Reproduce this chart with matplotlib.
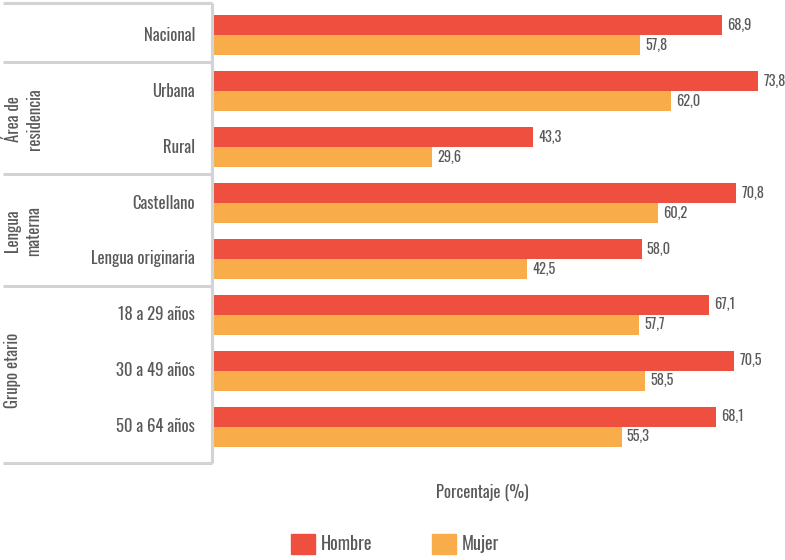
import matplotlib
matplotlib.use("Agg")
import matplotlib.pyplot as plt
from matplotlib import font_manager
from matplotlib.transforms import blended_transform_factory
from matplotlib.patches import Patch

categories = ["Nacional", "Urbana", "Rural", "Castellano", "Lengua originaria",
              "18 a 29 años", "30 a 49 años", "50 a 64 años"]
hombre = [68.9, 73.8, 43.3, 70.8, 58.0, 67.1, 70.5, 68.1]
mujer = [57.8, 62.0, 29.6, 60.2, 42.5, 57.7, 58.5, 55.3]
groups = [("Área de\nresidencia", 1.5), ("Lengua\nmaterna", 3.5), ("Grupo etario", 6.0)]
series_names = ["Hombre", "Mujer"]
xlabel = "Porcentaje (%)"

avail = {f.name for f in font_manager.fontManager.ttflist}
fam = None
for cand in ["Oswald", "Barlow Condensed", "Roboto Condensed", "IBM Plex Sans Condensed", "Noto Sans"]:
    if cand in avail:
        fam = cand
        break
plt.rcParams['font.family'] = [fam, 'DejaVu Sans'] if fam else ['DejaVu Sans']
plt.rcParams['font.weight'] = 300

RED = "#EF4F3E"
ORANGE = "#F9AD4A"
TXT = "#595959"
LINE = "#D3D3D3"

W, H = 785, 560
fig = plt.figure(figsize=(W / 100, H / 100), dpi=100)
left_px, right_px, top_px, bot_px = 213, 785, 3, 463
ax = fig.add_axes([left_px / W, 1 - bot_px / H, (right_px - left_px) / W, (bot_px - top_px) / H])
ax.set_ylim(7.65, -0.58)
ax.set_xlim(0, 77.4)
ax.axis("off")

bh = 0.358
ys = list(range(len(categories)))
ax.barh([y - bh / 2 for y in ys], hombre, height=bh, color=RED, label=series_names[0])
ax.barh([y + bh / 2 for y in ys], mujer, height=bh, color=ORANGE, label=series_names[1])

FS_VAL = 10.3
FS = 12
for y, v in zip(ys, hombre):
    ax.text(v + 0.7, y - bh / 2, f"{v:.1f}".replace(".", ","), va="center", ha="left",
            fontsize=FS_VAL, color=TXT)
for y, v in zip(ys, mujer):
    ax.text(v + 0.7, y + bh / 2, f"{v:.1f}".replace(".", ","), va="center", ha="left",
            fontsize=FS_VAL, color=TXT)

tr = blended_transform_factory(fig.transFigure, ax.transData)
for y, c in zip(ys, categories):
    ax.text(195 / W, y, c, transform=tr, ha="right", va="center", fontsize=FS, color=TXT)

# table lines
xl, xv = 3 / W, 211.5 / W
for yy in [-0.58, 0.47, 2.48, 4.48, 7.65]:
    ax.plot([xl, xv], [yy, yy], transform=tr, color=LINE, lw=2.2, clip_on=False,
            solid_capstyle="butt")
ax.plot([xv, xv], [-0.58, 7.65], transform=tr, color=LINE, lw=2.2, clip_on=False,
        solid_capstyle="butt")

for label, yc in groups:
    ax.text(4 / W, yc, label, transform=tr, rotation=90, ha="left", va="center",
            fontsize=FS, color=TXT, multialignment="center", linespacing=1.3)

fig.text(482 / W, 1 - 492 / H, xlabel, ha="center", va="center", fontsize=FS, color=TXT)

handles = [Patch(color=RED), Patch(color=ORANGE)]
fig.legend(handles, series_names, loc="center", bbox_to_anchor=(395 / W, 1 - 544 / H),
           ncol=2, frameon=False, fontsize=13, handlelength=1.33, handleheight=1.28,
           columnspacing=3.3, handletextpad=0.3, labelcolor=TXT)

fig.savefig("out.png", dpi=100)
